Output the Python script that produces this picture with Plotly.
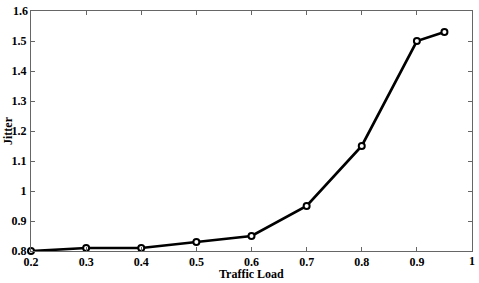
import plotly.graph_objects as go

traffic_load = [0.2, 0.3, 0.4, 0.5, 0.6, 0.7, 0.8, 0.9, 0.95]
jitter = [0.80, 0.81, 0.81, 0.83, 0.85, 0.95, 1.15, 1.50, 1.53]
x_ticks = [0.2, 0.3, 0.4, 0.5, 0.6, 0.7, 0.8, 0.9, 1.0]
x_tick_text = ["0.2", "0.3", "0.4", "0.5", "0.6", "0.7", "0.8", "0.9", "1"]
y_ticks = [0.8, 0.9, 1.0, 1.1, 1.2, 1.3, 1.4, 1.5, 1.6]
y_tick_text = ["0.8", "0.9", "1", "1.1", "1.2", "1.3", "1.4", "1.5", "1.6"]

FONT = "Liberation Serif, Times New Roman, serif"
TFONT = dict(family=FONT, size=12, color="black")

fig = go.Figure()
fig.add_trace(go.Scatter(
    x=traffic_load, y=jitter, mode="lines+markers",
    line=dict(color="black", width=2.7),
    marker=dict(symbol="circle", size=6, color="white", line=dict(width=2, color="black")),
    showlegend=False, cliponaxis=False,
))

fig.update_layout(
    width=479, height=283,
    margin=dict(l=31, r=7, t=11, b=32),
    paper_bgcolor="white", plot_bgcolor="white",
    font=TFONT,
)
axis_common = dict(
    ticks="inside", ticklen=4, tickcolor="#666", mirror="ticks",
    showline=True, linecolor="#666", linewidth=1, showgrid=False, zeroline=False,
    tickfont=TFONT, automargin=False, ticklabeloverflow="allow",
)
# the end-of-range labels are drawn as annotations (plotly hides them at the edge)
fig.update_xaxes(range=[0.2, 1.0], tickvals=x_ticks,
                 ticktext=["<b>%s</b>" % t for t in x_tick_text[:-1]] + [""],
                 ticklabelstandoff=0, **axis_common)
fig.update_yaxes(range=[0.8, 1.6], tickvals=y_ticks,
                 ticktext=["<b>%s</b>" % t for t in y_tick_text[:-1]] + [""],
                 ticklabelstandoff=1, **axis_common)

fig.add_annotation(text="<b>%s</b>" % x_tick_text[-1], xref="x", yref="paper",
                   x=x_ticks[-1], y=0, yshift=-2, xanchor="center", yanchor="top",
                   showarrow=False, font=TFONT, borderpad=0)
fig.add_annotation(text="<b>%s</b>" % y_tick_text[-1], xref="paper", yref="y",
                   x=0, y=y_ticks[-1], xshift=-2, xanchor="right", yanchor="middle",
                   showarrow=False, font=TFONT, borderpad=0)

fig.add_annotation(text="<b>Traffic Load</b>", xref="paper", yref="paper",
                   x=0.5, y=0, yshift=-23, xanchor="center", yanchor="middle",
                   showarrow=False, font=TFONT)
fig.add_annotation(text="<b>Jitter</b>", xref="paper", yref="paper",
                   x=0, y=0.5, xshift=-23, xanchor="center", yanchor="middle",
                   textangle=-90, showarrow=False, font=TFONT)
fig.write_html(
    "out.html", config={"displayModeBar": False},
    post_script=(
        "document.body.style.margin='0';document.body.style.overflow='hidden';"
        "var gd=document.getElementById('{plot_id}');"
        "Plotly.newPlot(gd, gd.data, gd.layout, {displayModeBar:false});"
    ),
)
